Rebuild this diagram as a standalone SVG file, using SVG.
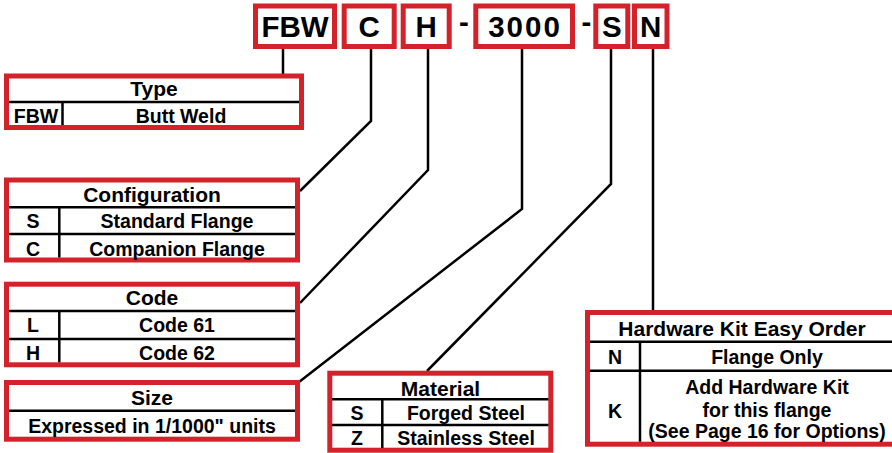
<svg xmlns="http://www.w3.org/2000/svg" width="892" height="453" viewBox="0 0 892 453">
<style>
.box{fill:#fff;stroke:#d3222a;stroke-width:5}
.div{stroke:#000;stroke-width:2.5}
.con{fill:none;stroke:#000;stroke-width:2.5;stroke-linejoin:miter}
text{font-family:"Liberation Sans",Arial,sans-serif;font-weight:bold;fill:#000;text-anchor:middle}
.code{font-size:29.5px}
.hd{font-size:21px}
.tx{font-size:19.5px}
</style>
<rect width="892" height="453" fill="#fff"/>
<g id="connectors">
<path class="con" d="M283 49V75"/>
<path class="con" d="M371 49V121L300 191"/>
<path class="con" d="M428 49V170L300 303"/>
<path class="con" d="M522 49V209L299 382"/>
<path class="con" d="M611 49V184L427 371"/>
<path class="con" d="M653 49V312"/>
</g>
<g id="code-fbw"><rect class="box" x="255.5" y="6" width="79" height="40.5"/><text class="code" x="295" y="36.5">FBW</text></g>
<g id="code-c"><rect class="box" x="344.2" y="6" width="50" height="40.5"/><text class="code" x="369.2" y="36.5">C</text></g>
<g id="code-h"><rect class="box" x="403.2" y="6" width="46" height="40.5"/><text class="code" x="426.2" y="36.5">H</text></g>
<g id="dash1"><text class="code" x="464" y="32">-</text></g>
<g id="code-3000"><rect class="box" x="475.8" y="6" width="96.7" height="40.5"/><text class="code" x="525" y="36.5" letter-spacing="2">3000</text></g>
<g id="dash2"><text class="code" x="586.5" y="32">-</text></g>
<g id="code-s"><rect class="box" x="595.8" y="6" width="32" height="40.5"/><text class="code" x="611.8" y="36.5">S</text></g>
<g id="code-n"><rect class="box" x="634.5" y="6" width="32.5" height="40.5"/><text class="code" x="650.7" y="36.5">N</text></g>

<g id="type">
<rect class="box" x="6.5" y="76" width="295" height="51.5"/>
<line class="div" x1="9" y1="102" x2="299" y2="102"/>
<line class="div" x1="62.5" y1="102" x2="62.5" y2="125"/>
<text class="hd" x="154" y="96">Type</text>
<text class="tx" x="36" y="123">FBW</text>
<text class="tx" x="181" y="123">Butt Weld</text>
</g>

<g id="configuration">
<rect class="box" x="6.5" y="180" width="291" height="80"/>
<line class="div" x1="9" y1="207.3" x2="295" y2="207.3"/>
<line class="div" x1="9" y1="234" x2="295" y2="234"/>
<line class="div" x1="59.3" y1="207.3" x2="59.3" y2="257.5"/>
<text class="hd" x="152" y="201.5">Configuration</text>
<text class="tx" x="33" y="228.3">S</text>
<text class="tx" x="177" y="228.3">Standard Flange</text>
<text class="tx" x="33" y="255.5">C</text>
<text class="tx" x="177" y="255.5">Companion Flange</text>
</g>

<g id="code">
<rect class="box" x="6.5" y="284.2" width="291" height="80.6"/>
<line class="div" x1="9" y1="311" x2="295" y2="311"/>
<line class="div" x1="9" y1="339" x2="295" y2="339"/>
<line class="div" x1="59.3" y1="311" x2="59.3" y2="362.3"/>
<text class="hd" x="152" y="305">Code</text>
<text class="tx" x="33" y="332.3">L</text>
<text class="tx" x="177" y="332.3">Code 61</text>
<text class="tx" x="33" y="360">H</text>
<text class="tx" x="177" y="360">Code 62</text>
</g>

<g id="size">
<rect class="box" x="6.5" y="382.5" width="291" height="56.7"/>
<line class="div" x1="9" y1="410.7" x2="295" y2="410.7"/>
<text class="hd" x="152" y="405">Size</text>
<text class="tx" x="152" y="433.3">Expressed in 1/1000" units</text>
</g>

<g id="material">
<rect class="box" x="329.8" y="373.2" width="221" height="77"/>
<line class="div" x1="332" y1="399.3" x2="548.5" y2="399.3"/>
<line class="div" x1="332" y1="425" x2="548.5" y2="425"/>
<line class="div" x1="382.3" y1="399.3" x2="382.3" y2="448"/>
<text class="hd" x="440.5" y="396">Material</text>
<text class="tx" x="357" y="420">S</text>
<text class="tx" x="466" y="420">Forged Steel</text>
<text class="tx" x="357" y="445">Z</text>
<text class="tx" x="466" y="445">Stainless Steel</text>
</g>

<g id="hardware-kit">
<rect class="box" x="587.5" y="312.5" width="309" height="131.7"/>
<line class="div" x1="590" y1="341.7" x2="894" y2="341.7"/>
<line class="div" x1="590" y1="370.7" x2="894" y2="370.7"/>
<line class="div" x1="640" y1="341.7" x2="640" y2="441.7"/>
<text class="hd" x="742" y="335.7">Hardware Kit Easy Order</text>
<text class="tx" x="615" y="364">N</text>
<text class="tx" x="767" y="364">Flange Only</text>
<text class="tx" x="615" y="418.3">K</text>
<text class="tx" x="767" y="394.3">Add Hardware Kit</text>
<text class="tx" x="767" y="416.5">for this flange</text>
<text class="tx" x="767" y="437.7">(See Page 16 for Options)</text>
</g>
</svg>
